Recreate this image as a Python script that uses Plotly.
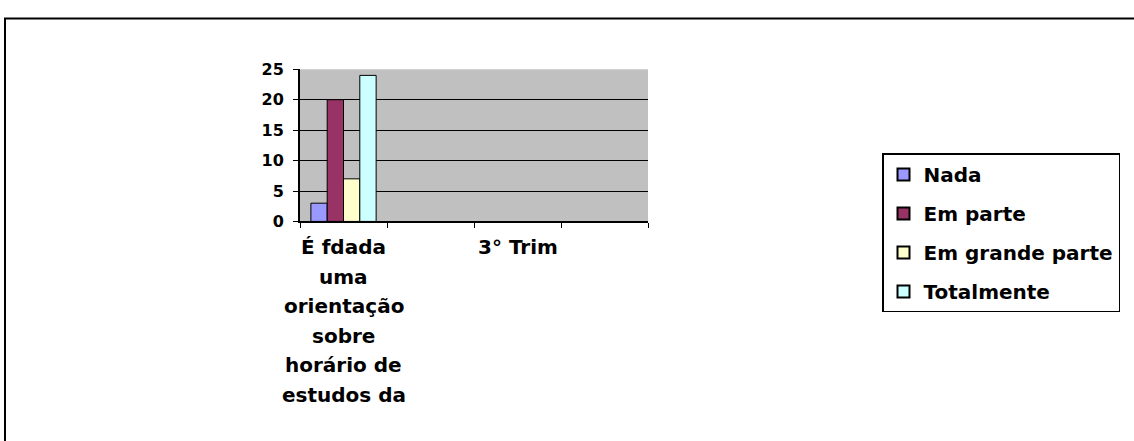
import plotly.graph_objects as go

# categorias (só a 1ª e a 3ª aparecem no eixo, como no original)
categorias = ["É fdada uma orientação sobre horário de estudos da", "2° Trim", "3° Trim", "4° Trim"]
rotulos_x = [
    ["É fdada", "uma", "orientação", "sobre", "horário de", "estudos da"],
    [],
    ["3° Trim"],
    [],
]

series = ["Nada", "Em parte", "Em grande parte", "Totalmente"]
valores = {
    "Nada": [3, None, None, None],
    "Em parte": [20, None, None, None],
    "Em grande parte": [7, None, None, None],
    "Totalmente": [24, None, None, None],
}
cores = {
    "Nada": "#9999FF",
    "Em parte": "#993366",
    "Em grande parte": "#FFFFCC",
    "Totalmente": "#CCFFFF",
}

W, H = 1134, 441
fonte = "DejaVu Sans"

fig = go.Figure()
for s in series:
    fig.add_trace(go.Bar(
        x=categorias,
        y=valores[s],
        name=s,
        legendgroup=s,
        marker=dict(color=cores[s], line=dict(color="black", width=1)),
    ))

# domínio da área do gráfico (em pixels -> fração)
x0, x1 = 300 / W, 648 / W
y0, y1 = 1 - 222 / H, 1 - 63 / H

fig.update_layout(
    autosize=True,
    margin=dict(l=0, r=0, t=0, b=0),
    paper_bgcolor="white",
    plot_bgcolor="#C0C0C0",
    barmode="group",
    bargap=0.25,
    bargroupgap=0,
    font=dict(family=fonte, size=20, color="black", weight="bold"),
    xaxis=dict(
        domain=[x0, x1],
        range=[-0.5, len(categorias) - 0.5],
        showticklabels=False,
        showline=True, linecolor="black", linewidth=1.5,
        ticks="outside", ticklen=5, tickcolor="black",
        tickson="boundaries",
        showgrid=False,
    ),
    yaxis=dict(
        domain=[y0, y1],
        range=[0, 25],
        dtick=5,
        showline=True, linecolor="black", linewidth=2,
        ticks="outside", ticklen=5, tickcolor="black",
        gridcolor="black", gridwidth=1,
        zeroline=False,
        ticklabelstandoff=6,
        tickfont=dict(family=fonte, size=16, weight="bold"),
    ),
    legend=dict(
        x=882 / W, y=1 - 151 / H, xanchor="left", yanchor="top",
        bordercolor="black", borderwidth=1.5,
        font=dict(family=fonte, size=20, weight="bold"),
        traceorder="grouped",
        tracegroupgap=10,
        itemsizing="constant",
    ),
    showlegend=True,
)

# rótulos do eixo x, uma linha por anotação (espaçamento como no original)
for cat, linhas in zip(categorias, rotulos_x):
    for i, txt in enumerate(linhas):
        fig.add_annotation(
            x=cat, y=y0, xref="x", yref="paper",
            text=txt, showarrow=False,
            yanchor="top", yshift=-12 - i * 29.5,
            font=dict(family=fonte, size=20, weight="bold"),
        )

# moldura externa (no original só o topo e a esquerda ficam visíveis)
fig.add_shape(type="rect", xref="paper", yref="paper",
              x0=5 / W, x1=1.05, y0=-0.05, y1=1 - 10 / H,
              line=dict(color="black", width=2))

fig.write_html(
    "out.html",
    config={"displayModeBar": False, "responsive": True},
    default_width="100vw",
    default_height="100vh",
    post_script=(
        "document.body.style.margin='0';"
        "document.body.style.overflow='hidden';"
        "Plotly.Plots.resize(document.getElementById('{plot_id}'));"
    ),
)
